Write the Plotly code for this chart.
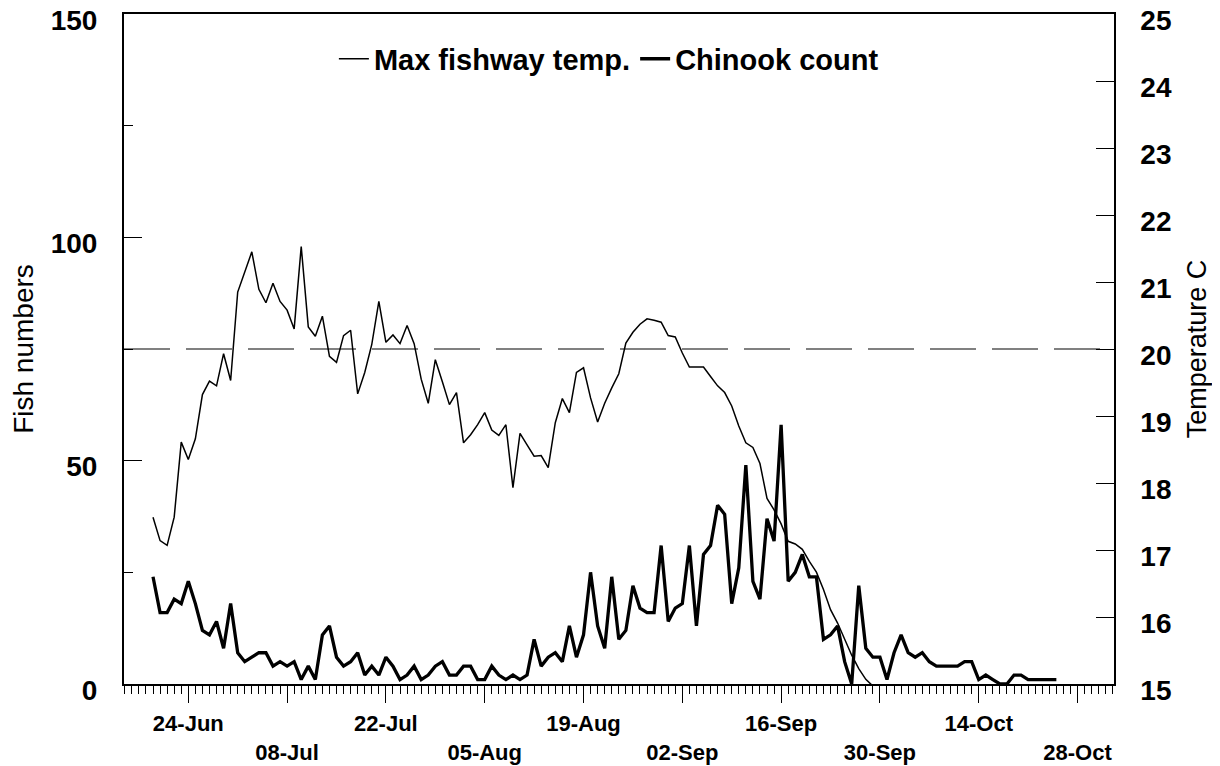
import plotly.graph_objects as go
import pandas as pd

# ---------------- data ----------------
START_DATE = "2004-06-19"          # first daily observation (19-Jun)

chinook_count = [
    24, 16, 16, 19, 18, 23, 18, 12, 11, 14, 8, 18, 7, 5, 6, 7, 7, 4, 5, 4,
    5, 1, 4, 1, 11, 13, 6, 4, 5, 7, 2, 4, 2, 6, 4, 1, 2, 4, 1, 2,
    4, 5, 2, 2, 4, 4, 1, 1, 4, 2, 1, 2, 1, 2, 10, 4, 6, 7, 5, 13,
    6, 11, 25, 13, 8, 24, 10, 12, 22, 17, 16, 16, 31, 14, 17, 18, 31, 13, 29, 31,
    40, 38, 18, 26, 49, 23, 19, 37, 32, 58, 23, 25, 29, 24, 24, 10, 11, 13, 5, 0,
    22, 8, 6, 6, 1, 7, 11, 7, 6, 7, 5, 4, 4, 4, 4, 5, 5, 1, 2, 1,
    0, 0, 2, 2, 1, 1, 1, 1, 1,
]

max_fishway_temp = [
    17.49, 17.14, 17.07, 17.49, 18.61, 18.35, 18.66, 19.32, 19.52, 19.45,
    19.93, 19.53, 20.85, 21.14, 21.45, 20.89, 20.69, 20.98, 20.71, 20.58,
    20.30, 21.53, 20.33, 20.19, 20.49, 19.89, 19.80, 20.20, 20.28, 19.33,
    19.65, 20.07, 20.71, 20.10, 20.21, 20.08, 20.35, 20.08, 19.55, 19.19,
    19.84, 19.51, 19.17, 19.35, 18.60, 18.72, 18.87, 19.05, 18.79, 18.71,
    18.87, 17.93, 18.74, 18.57, 18.40, 18.41, 18.23, 18.90, 19.26, 19.05,
    19.65, 19.72, 19.27, 18.91, 19.19, 19.42, 19.63, 20.09, 20.25, 20.37,
    20.45, 20.43, 20.40, 20.20, 20.18, 19.94, 19.73, 19.73, 19.73, 19.59,
    19.45, 19.35, 19.15, 18.85, 18.60, 18.53, 18.29, 17.77, 17.60, 17.39,
    17.13, 17.09, 17.01, 16.83, 16.67, 16.41, 16.11, 15.91, 15.67, 15.43,
    15.23, 15.07, 14.97,
]

TEMP_THRESHOLD = 20.0               # dashed reference line (deg C)

TICK_START = "2004-06-24"           # first labelled date
TICK_COUNT = 10
TICK_STEP = "14D"
X_RANGE = ["2004-06-14 21:20", "2004-11-02 04:00"]
COUNT_RANGE = [0, 150]
COUNT_TICKS = [0, 50, 100, 150]
TEMP_RANGE = [15, 25]

# ---------------- derived ----------------
count_dates = pd.date_range(START_DATE, periods=len(chinook_count), freq="D")
temp_dates = pd.date_range(START_DATE, periods=len(max_fishway_temp), freq="D")
tick_dates = pd.date_range(TICK_START, periods=TICK_COUNT, freq=TICK_STEP)
tick_text = [d.strftime("%d-%b") if i % 2 == 0 else "<br>" + d.strftime("%d-%b")
             for i, d in enumerate(tick_dates)]

FONT = "Liberation Sans, Arial, sans-serif"

fig = go.Figure()
fig.add_trace(go.Scatter(
    x=temp_dates, y=max_fishway_temp, name="Max fishway temp.",
    mode="lines", line=dict(color="black", width=1.5), yaxis="y2",
))
fig.add_trace(go.Scatter(
    x=count_dates, y=chinook_count, name="Chinook count",
    mode="lines", line=dict(color="black", width=3.3), yaxis="y",
))

fig.add_shape(
    type="line", xref="paper", x0=0, x1=1, yref="y2",
    y0=TEMP_THRESHOLD, y1=TEMP_THRESHOLD,
    line=dict(color="#808080", width=2, dash="46px,16px"), layer="below",
)

fig.update_layout(
    width=1212, height=758,
    margin=dict(l=116, r=106, t=6, b=82, autoexpand=False),
    paper_bgcolor="white", plot_bgcolor="white",
    font=dict(family=FONT, color="black"),
    showlegend=True,
    legend=dict(
        orientation="h", x=0.212, xanchor="left", y=0.933, yanchor="middle",
        valign="top",
        bgcolor="rgba(0,0,0,0)", borderwidth=0,
        font=dict(family=FONT, size=29, color="black", weight="bold"),
    ),
    xaxis=dict(
        type="date", range=X_RANGE, automargin=False,
        tickmode="array", tickvals=tick_dates, ticktext=tick_text,
        ticks="outside", ticklen=17, tickwidth=1, tickcolor="black",
        showline=True, linewidth=2, linecolor="black", mirror=True,
        showgrid=False, zeroline=False, ticklabelstandoff=2,
        tickfont=dict(family=FONT, size=22, color="black", weight="bold"),
        minor=dict(ticks="outside", ticklen=8, tickwidth=1, tickcolor="black",
                   tickmode="linear", tick0=START_DATE, dtick=86400000,
                   showgrid=False),
    ),
    yaxis=dict(
        range=COUNT_RANGE, tickmode="array", tickvals=COUNT_TICKS,
        automargin=False, ticklabeloverflow="allow", ticklabelshift=6,
        ticks="inside", ticklen=18, tickwidth=1, tickcolor="black",
        showline=True, linewidth=2, linecolor="black",
        showgrid=False, zeroline=False, ticklabelstandoff=19,
        tickfont=dict(family=FONT, size=28, color="black", weight="bold"),
        minor=dict(ticks="inside", ticklen=9, tickwidth=1, tickcolor="black",
                   dtick=25, showgrid=False),
        title=dict(text="Fish numbers", standoff=15,
                   font=dict(family=FONT, size=28, color="black")),
    ),
    yaxis2=dict(
        overlaying="y", side="right", range=TEMP_RANGE,
        automargin=False, ticklabeloverflow="allow", ticklabelshift=6,
        tickmode="linear", tick0=15, dtick=1,
        ticks="inside", ticklen=18, tickwidth=1, tickcolor="black",
        showline=True, linewidth=1.5, linecolor="black",
        showgrid=False, zeroline=False, ticklabelstandoff=19,
        tickfont=dict(family=FONT, size=28, color="black", weight="bold"),
        title=dict(text="Temperature C", standoff=16,
                   font=dict(family=FONT, size=27, color="black")),
    ),
)

fig.write_html("out.html")
